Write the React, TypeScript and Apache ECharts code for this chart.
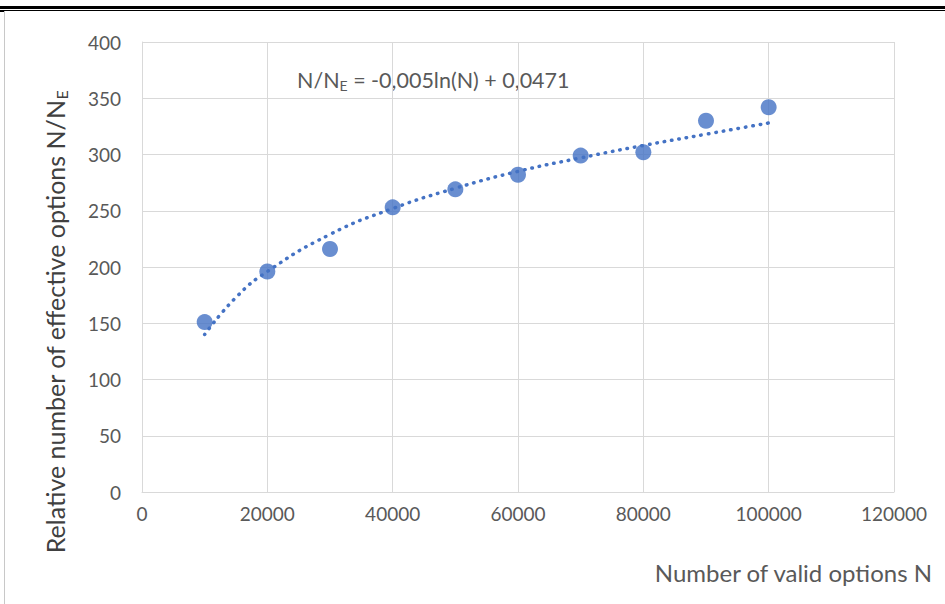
import React, { useEffect, useRef } from "react";
import * as echarts from "echarts";

const xValues = [10000, 20000, 30000, 40000, 50000, 60000, 70000, 80000, 90000, 100000];
const yValues = [151, 196, 216, 253, 269, 282, 299, 302, 330, 342];
const trendX = [10000, 15000, 20000, 30000, 40000, 50000, 60000, 70000, 80000, 90000, 100000];
const trendY = [140, 173, 196, 229, 252, 270, 285, 297, 308, 318, 328];
const xTicks = [0, 20000, 40000, 60000, 80000, 100000, 120000];
const yTicks = [0, 50, 100, 150, 200, 250, 300, 350, 400];

const FONT = "Lato";
const BLUE = "#4472C4";
const GRID = "#D9D9D9";
const TXT = "#595959";

export default function App() {
  const ref = useRef<HTMLDivElement>(null);
  useEffect(() => {
    const chart = echarts.init(ref.current!, null, { renderer: "svg" });
    chart.setOption({
      animation: false,
      backgroundColor: "#fff",
      textStyle: { fontFamily: FONT },
      grid: { left: 142, right: 51, top: 42, bottom: 112, containLabel: false },
      xAxis: {
        type: "value",
        min: xTicks[0],
        max: xTicks[xTicks.length - 1],
        interval: 20000,
        axisLine: { show: true, lineStyle: { color: GRID, width: 1 } },
        axisTick: { show: false },
        splitLine: { show: true, lineStyle: { color: GRID, width: 1 } },
        axisLabel: {
          color: TXT, fontSize: 19, fontFamily: FONT, margin: 12,
          formatter: (v: number) => String(v),
        },
      },
      yAxis: {
        type: "value",
        min: yTicks[0],
        max: yTicks[yTicks.length - 1],
        interval: 50,
        axisLine: { show: true, lineStyle: { color: GRID, width: 1 } },
        axisTick: { show: false },
        splitLine: { show: true, lineStyle: { color: GRID, width: 1 } },
        axisLabel: {
          color: TXT, fontSize: 19, fontFamily: FONT, margin: 21,
          formatter: (v: number) => String(v),
        },
      },
      graphic: [
        { type: "rect", shape: { x: 0, y: 6, width: 945, height: 3 }, style: { fill: "#000" }, silent: true },
        { type: "rect", shape: { x: 0, y: 10, width: 945, height: 1 }, style: { fill: "#000" }, silent: true },
        { type: "rect", shape: { x: 0, y: 11, width: 4, height: 1 }, style: { fill: "#000" }, silent: true },
        { type: "line", shape: { x1: 4.5, y1: 11, x2: 4.5, y2: 604 }, style: { stroke: "#C8C8C8", lineWidth: 1 }, silent: true },
        {
          type: "text",
          x: 297,
          y: 80,
          style: {
            text: "{a|N/N}{s|E}{a| = -0,005ln(N) + 0,0471}",
            verticalAlign: "middle",
            rich: {
              a: { fill: TXT, fontSize: 21.5, fontFamily: FONT },
              s: { fill: TXT, fontSize: 14, fontFamily: FONT, padding: [10, 0, 0, 0] },
            },
          },
        },
        {
          type: "text",
          x: 932,
          y: 572,
          style: {
            text: "Number of valid options N",
            fill: TXT,
            fontSize: 24,
            fontFamily: FONT,
            align: "right",
            verticalAlign: "middle",
          },
        },
        {
          type: "text",
          x: 55,
          y: 322,
          rotation: Math.PI / 2,
          style: {
            text: "{a|Relative number of effective options N/N}{s|E}",
            align: "center",
            verticalAlign: "middle",
            rich: {
              a: { fill: "#404040", fontSize: 25, fontFamily: FONT },
              s: { fill: "#404040", fontSize: 16, fontFamily: FONT, padding: [12, 0, 0, 0] },
            },
          },
        },
      ],
      series: [
        {
          type: "line",
          data: trendX.map((x, i) => [x, trendY[i]]),
          smooth: true,
          showSymbol: false,
          symbol: "none",
          lineStyle: { color: BLUE, width: 3.5, type: [0.5, 7], cap: "round" },
          z: 2,
        },
        {
          type: "scatter",
          data: xValues.map((x, i) => [x, yValues[i]]),
          symbol: "circle",
          symbolSize: 16,
          itemStyle: { color: BLUE },
          z: 3,
        },
      ],
    });
    return () => chart.dispose();
  }, []);
  return (
    <div
      ref={ref}
      style={{ position: "fixed", left: 0, top: 0, width: 945, height: 604, background: "#fff" }}
    />
  );
}
